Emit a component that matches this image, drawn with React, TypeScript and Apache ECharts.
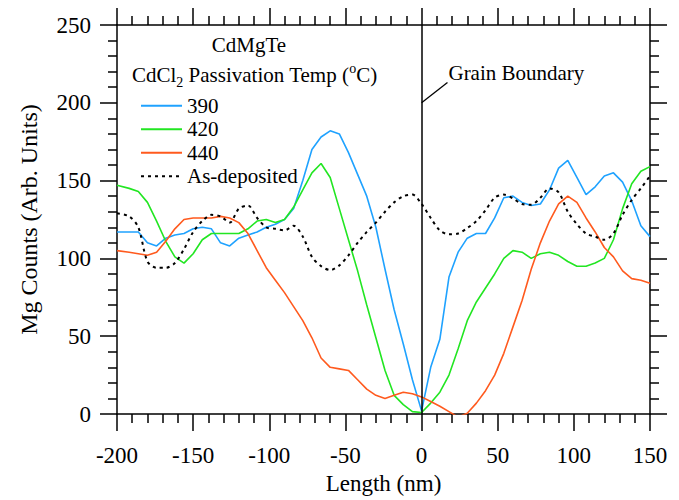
import React, { useEffect, useRef } from "react";
import * as echarts from "echarts";

// Position along the line scan (nm)
const lengthNm = [
  -200, -192, -186, -180, -174, -168, -162, -156, -150, -144, -138, -132, -126, -120, -114, -108, -102, -96, -90,
  -84, -78, -72, -66, -60, -54, -48, -42, -36, -30, -24, -18, -12, -6, 0,
  6, 12, 18, 24, 30, 36, 42, 48, 54, 60, 66, 72, 78, 84, 90, 96, 102, 108, 114, 120, 126, 132, 138, 144, 150,
];

// Mg counts for each passivation temperature
const mg390 = [
  117, 117, 117, 110, 108, 113, 115, 116, 119, 120, 119, 110, 108, 113, 115, 117, 120, 122, 125,
  132, 150, 170, 178, 182, 180, 168, 154, 140, 120, 93, 67, 45, 22, 2,
  30, 48, 88, 104, 113, 116, 116, 126, 139, 140, 136, 134, 135, 144, 158, 163, 152, 141, 146, 153, 155, 149, 137, 121, 114,
];
const mg420 = [
  147, 145, 143, 136, 124, 111, 101, 97, 103, 112, 116, 116, 116, 116, 119, 124, 125, 123, 125,
  133, 144, 155, 161, 152, 132, 112, 92, 70, 49, 28, 12, 6, 1.5, 1,
  7, 14, 25, 42, 60, 72, 81, 90, 100, 105, 104, 100, 103, 104, 102, 98, 95, 95, 97, 100, 112, 132, 148, 156, 159,
];
const mg440 = [
  105, 104, 103, 102, 104, 111, 119, 125, 126, 126, 126, 127, 126, 123, 116, 105, 94, 86, 78,
  69, 60, 49, 36, 30, 29, 28, 22, 16, 12, 10, 12, 14, 13, 11,
  8, 5, 1.5, -2, 0.5, 7, 15, 25, 39, 56, 73, 93, 110, 124, 135, 140, 136, 126, 117, 107, 101, 92, 87, 86, 84,
];
const mgAsDeposited = [
  129, 127, 120, 98, 94, 94, 97, 106, 117, 124, 128, 127, 123, 132, 134, 126, 120, 119, 118,
  121, 114, 101, 95, 92.5, 95.5, 102, 110, 117, 123, 130, 136, 140, 141, 135,
  126, 118, 115.5, 116, 119.5, 124, 131, 139, 141, 138.5, 135, 134.5, 139, 145, 142.5, 130, 122, 116, 114, 112, 116, 128, 137.5, 145, 153,
];

const seriesNames = ["390", "420", "440", "As-deposited"];
const seriesColors = ["#1fa2ff", "#22e622", "#ff5a1e", "#000000"];
const xTicks = { min: -200, max: 150, interval: 50 };
const yTicks = { min: 0, max: 250, interval: 50 };

// Grain boundary leader line, in data coordinates
const boundaryLabelFrom = [0, 200];
const boundaryLabelTo = [17, 213];

const FONT = "'Liberation Serif', 'Times New Roman', serif";

const pairs = (ys: number[]) => lengthNm.map((x, i) => [x, ys[i]]);

const tickStyle = { color: "#000", width: 1.5 };

function axisCommon(showLabels: boolean) {
  return {
    axisLine: { show: true, onZero: false, lineStyle: tickStyle },
    axisTick: { show: true, inside: false, length: 17, lineStyle: tickStyle },
    minorTick: { show: true, splitNumber: 5, length: 9, lineStyle: tickStyle },
    splitLine: { show: false },
    minorSplitLine: { show: false },
    axisLabel: {
      show: showLabels,
      color: "#000",
      fontFamily: FONT,
      fontSize: 23,
    },
  };
}

export default function App() {
  const ref = useRef<HTMLDivElement>(null);

  useEffect(() => {
    document.body.style.margin = "0";
    if (!ref.current) return;
    const chart = echarts.init(ref.current, undefined, { renderer: "svg" });

    const lineSeries = (name: string, ys: number[], idx: number, extra: any = {}) => ({
      name,
      type: "line",
      data: pairs(ys),
      symbol: "none",
      showSymbol: false,
      clip: true,
      color: seriesColors[idx],
      lineStyle: { color: seriesColors[idx], width: 1.6 },
      ...extra,
    });

    const xBase = axisCommon(true);
    const yBase = axisCommon(true);

    chart.setOption({
      animation: false,
      backgroundColor: "#ffffff",
      grid: { left: 117, right: 29, top: 25, bottom: 86 },
      legend: {
        orient: "vertical",
        left: 135,
        top: 89,
        itemWidth: 41,
        itemHeight: 12,
        itemGap: 0,
        itemStyle: { opacity: 0 },
        data: seriesNames,
        textStyle: { color: "#000", fontFamily: FONT, fontSize: 21, lineHeight: 23.5 },
      },
      xAxis: [
        {
          type: "value",
          position: "bottom",
          ...xTicks,
          ...xBase,
          axisLabel: { ...xBase.axisLabel, margin: 30 },
          name: "Length (nm)",
          nameLocation: "middle",
          nameGap: 54,
          nameTextStyle: { color: "#000", fontFamily: FONT, fontSize: 23 },
        },
        {
          type: "value",
          position: "top",
          ...xTicks,
          ...axisCommon(false),
        },
      ],
      yAxis: [
        {
          type: "value",
          position: "left",
          ...yTicks,
          ...yBase,
          axisLabel: { ...yBase.axisLabel, margin: 26 },
          name: "Mg Counts (Arb. Units)",
          nameLocation: "middle",
          nameGap: 76,
          nameTextStyle: { color: "#000", fontFamily: FONT, fontSize: 24 },
        },
        {
          type: "value",
          position: "right",
          ...yTicks,
          ...axisCommon(false),
        },
      ],
      series: [
        lineSeries(seriesNames[0], mg390, 0, {
          markLine: {
            silent: true,
            symbol: ["none", "none"],
            label: { show: false },
            lineStyle: { color: "#000", width: 1.5, type: "solid" },
            data: [{ xAxis: 0 }],
          },
        }),
        lineSeries(seriesNames[1], mg420, 1),
        lineSeries(seriesNames[2], mg440, 2),
        lineSeries(seriesNames[3], mgAsDeposited, 3, {
          smooth: 0.3,
          lineStyle: { color: "#000", width: 2, type: [3, 4] },
        }),
      ],
    });

    const p0 = chart.convertToPixel({ xAxisIndex: 0, yAxisIndex: 0 }, boundaryLabelFrom) as number[];
    const p1 = chart.convertToPixel({ xAxisIndex: 0, yAxisIndex: 0 }, boundaryLabelTo) as number[];

    chart.setOption({
      graphic: [
        {
          type: "text",
          x: 249,
          y: 45,
          style: {
            text: "CdMgTe",
            fill: "#000",
            font: `21px ${FONT}`,
            align: "center",
            verticalAlign: "middle",
          },
        },
        {
          type: "text",
          x: 132,
          y: 75,
          style: {
            text: "{m|CdCl}{sub|2}{m| Passivation Temp (}{sup|o}{m|C)}",
            fill: "#000",
            align: "left",
            verticalAlign: "middle",
            rich: {
              m: { fontFamily: FONT, fontSize: 21, lineHeight: 28, fill: "#000" },
              sub: { fontFamily: FONT, fontSize: 14, lineHeight: 14, verticalAlign: "bottom", fill: "#000" },
              sup: { fontFamily: FONT, fontSize: 14, lineHeight: 14, verticalAlign: "top", fill: "#000" },
            },
          },
        },
        {
          type: "line",
          shape: { x1: p0[0], y1: p0[1], x2: p1[0], y2: p1[1] },
          style: { stroke: "#000", lineWidth: 1.3 },
        },
        {
          type: "text",
          x: p1[0] + 1,
          y: p1[1] + 1,
          style: {
            text: "Grain Boundary",
            fill: "#000",
            font: `21px ${FONT}`,
            align: "left",
            verticalAlign: "bottom",
          },
        },
      ],
    });

    return () => chart.dispose();
  }, []);

  return <div ref={ref} style={{ width: 679, height: 500 }} />;
}
